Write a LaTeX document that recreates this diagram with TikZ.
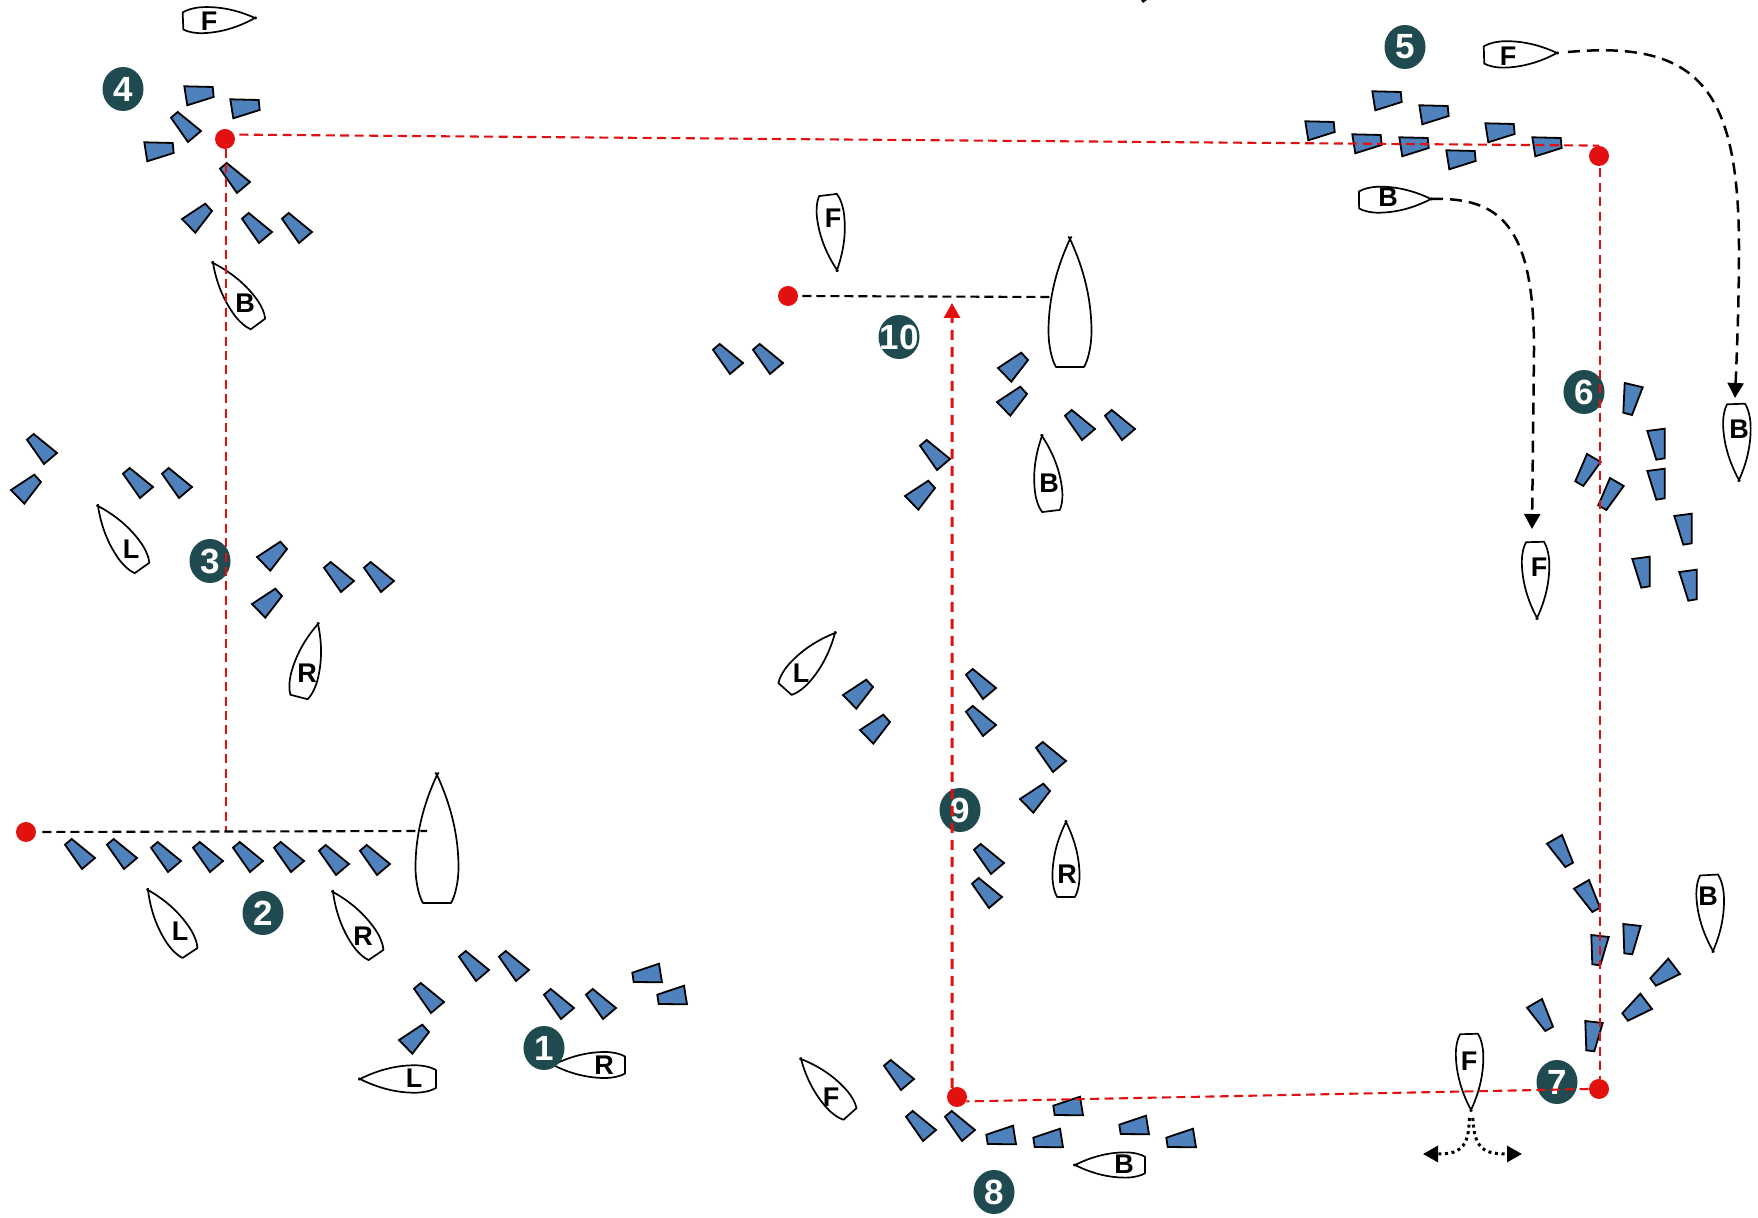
\documentclass[tikz,border=0pt]{standalone}
\usepackage{fontspec}
\setmainfont{Liberation Sans}
\usetikzlibrary{arrows.meta,shapes.geometric}
\definecolor{conefill}{HTML}{4F81BD}
\definecolor{markred}{HTML}{E31010}
\definecolor{badge}{HTML}{1F4A4F}
\tikzset{
  conestyle/.style={draw=black,fill=conefill,line width=0.9pt,line join=miter},
  hull/.style={draw=black,line width=0.85pt,line join=round},
  lbl/.style={inner sep=0pt,font=\fontsize{13.5}{14}\selectfont\bfseries,text=black},
  numbadge/.style={ellipse,fill=badge,minimum width=20.5pt,minimum height=22pt,inner sep=0pt,
    text=white,font=\fontsize{17.5}{18}\selectfont\bfseries},
  reddot/.style={circle,fill=markred,minimum size=10pt,inner sep=0pt},
  redline/.style={draw=markred,line width=1.05pt,dash pattern=on 4.5pt off 2.7pt},
  redbold/.style={draw=markred,line width=1.5pt,dash pattern=on 5pt off 3.5pt},
  blackline/.style={draw=black,line width=1.05pt,dash pattern=on 4.5pt off 2.5pt},
  curveline/.style={draw=black,line width=1.25pt,dash pattern=on 6pt off 3.5pt},
  dotline/.style={draw=black,line width=1.5pt,dash pattern=on 1.5pt off 1.8pt},
  arrowed/.style={-{Triangle[length=7.5pt,width=8pt]}}
}
\newcommand{\defcone}[2]{\expandafter\newcommand\csname cone#1\endcsname[2]{\draw[conestyle,shift={(##1,##2)}] #2 -- cycle;}}
\defcone{A}{(-15,-9.3) -- (-8.3,-15) -- (15,4) -- (2,15)}
\defcone{B}{(-14.7,-9.7) -- (13.7,-9) -- (14.7,1) -- (-11.7,9.3)}
\defcone{C}{(-15,1) -- (8.3,-14.3) -- (15,-7) -- (-1.7,14.7)}
\defcone{D}{(-13,-7.3) -- (2,-16) -- (13,11.7) -- (5.3,16)}
\defcone{E}{(-8.7,-15) -- (8.7,-13) -- (0.3,15.3) -- (-7.7,14.3)}
\defcone{F}{(-8.7,-13) -- (8.7,-15.3) -- (8.7,14.3) -- (0.3,15.7)}
\defcone{G}{(3.3,-13.3) -- (15,2) -- (-9,13.7) -- (-14.7,6.3)}
\defcone{H}{(-14.7,-0.3) -- (12,-9.3) -- (15,9.3) -- (-13.3,9)}
\defcone{J}{(-1,-16) -- (12.7,-8) -- (-4.7,16) -- (-12.7,11.3)}
\defcone{K}{(-8.3,-16) -- (9.7,-11.7) -- (-1,16) -- (-9.7,13.7)}
% name, bow x, bow y, stern x, stern y, width factor
\newcommand{\boat}[6]{%
  \pgfmathsetmacro{\bdx}{#4-#2}\pgfmathsetmacro{\bdy}{#5-#3}%
  \pgfmathsetmacro{\blen}{veclen(\bdx,\bdy)/72}%
  \pgfmathsetmacro{\bang}{atan2(\bdx,\bdy)}%
  \coordinate (#1) at (#2,#3);%
  \begin{scope}[shift={(#2,#3)},rotate=\bang,yscale=\blen,xscale=\blen*#6]
    \draw[hull] (0,0) .. controls (-6,12) and (-13,30) .. (-13,52)
      .. controls (-13,60) and (-11,68) .. (-8.5,72) -- (8.5,72)
      .. controls (11,68) and (13,60) .. (13,52)
      .. controls (13,30) and (6,12) .. (0,0);
    \draw[hull] (-1,-1.4) -- (0,0) -- (1,-1.4);
  \end{scope}}
\begin{document}
\begin{tikzpicture}[x=0.5pt,y=-0.5pt]
\path[fill=white] (0,0) rectangle (1758,1218);
\useasboundingbox (0,0) rectangle (1758,1218);

% boats
\boat{bF4}{255}{18}{183}{21}{1}
\boat{bB4}{213}{263}{258}{324}{1}
\boat{bF5}{1557}{53}{1484}{55}{1}
\boat{bB5}{1431}{199}{1359}{200}{1}
\boat{bF10}{837}{270}{828}{195}{1}
\boat{bBig10}{1070}{239}{1070}{367}{0.93}
\boat{bB10}{1042}{436}{1051}{511}{1}
\boat{bBig2}{437}{775}{437}{903}{0.93}
\boat{bL2}{148}{890}{190}{953}{1}
\boat{bR2}{333}{892}{376}{955}{1}
\boat{bL3}{98}{506}{142}{568}{1}
\boat{bR3}{318}{624}{299}{697}{1}
\boat{bL9}{835}{633}{785}{689}{1}
\boat{bR9}{1066}{822}{1066}{897}{1}
\boat{bL1}{360}{1079}{436}{1079}{1}
\boat{bR1}{553}{1065}{625}{1065}{1}
\boat{bF8}{801}{1059}{850}{1114}{1}
\boat{bB8}{1075}{1165}{1145}{1165}{1}
\boat{bF7}{1471}{1110}{1469}{1034}{1}
\boat{bB7}{1713}{951}{1709}{875}{1}
\boat{bB6}{1739}{480}{1736}{404}{1}
\boat{bF6}{1537}{618}{1535}{542}{1}

\node[lbl] (tF4) at (209,21) {F};
\node[lbl] (tB4) at (245,303) {B};
\node[lbl] (tF5) at (1508,56) {F};
\node[lbl] (tB5) at (1388,197) {B};
\node[lbl] (tF10) at (833,218) {F};
\node[lbl] (tB10) at (1049,483) {B};
\node[lbl] (tL2) at (180,931) {L};
\node[lbl] (tR2) at (363,936) {R};
\node[lbl] (tL3) at (131,549) {L};
\node[lbl] (tR3) at (307,673) {R};
\node[lbl] (tL9) at (801,673) {L};
\node[lbl] (tR9) at (1067,874) {R};
\node[lbl] (tL1) at (414,1078) {L};
\node[lbl] (tR1) at (604,1065) {R};
\node[lbl] (tF8) at (831,1097) {F};
\node[lbl] (tB8) at (1124,1164) {B};
\node[lbl] (tF7) at (1469,1061) {F};
\node[lbl] (tB7) at (1708,896) {B};
\node[lbl] (tB6) at (1739,429) {B};
\node[lbl] (tF6) at (1539,567) {F};

% cones: group 4
\coneA{186}{127}\coneA{235}{178}\coneA{257}{228}\coneA{297}{228}\coneC{197}{218}
\coneB{199}{96}\coneB{245}{109}\coneB{159}{152}
% group 5
\coneB{1387}{101}\coneB{1434}{115}\coneB{1320}{131}\coneB{1367}{144}
\coneB{1414}{147}\coneB{1500}{133}\coneB{1547}{147}\coneB{1461}{160}
% group 2
\coneA{80}{854}\coneA{122}{854}\coneA{166}{857}\coneA{208}{857}
\coneA{248}{857}\coneA{289}{857}\coneA{334}{860}\coneA{375}{860}
% group 1
\coneA{474}{966}\coneA{514}{966}\coneA{429}{998}\coneA{559}{1004}\coneA{601}{1004}
\coneC{414}{1039}\coneH{647}{973}\coneH{672}{995}
% group 3
\coneA{42}{449}\coneC{26}{489}\coneA{138}{483}\coneA{177}{483}
\coneC{272}{556}\coneC{267}{603}\coneA{339}{577}\coneA{379}{577}
% group 10
\coneA{728}{359}\coneA{768}{359}\coneC{1013}{367}\coneC{1012}{401}
\coneA{1080}{425}\coneA{1120}{425}\coneA{935}{455}\coneC{920}{495}
% group 9
\coneC{858}{694}\coneC{875}{729}\coneA{981}{684}\coneA{981}{721}
\coneA{1051}{757}\coneC{1035}{798}\coneA{989}{859}\coneA{987}{893}
% group 8
\coneA{899}{1075}\coneA{921}{1126}\coneA{960}{1126}\coneH{1001}{1135}
\coneH{1048}{1138}\coneH{1068}{1106}\coneH{1134}{1125}\coneH{1181}{1138}
% group 6
\coneK{1633}{399}\coneF{1656}{444}\coneF{1656}{484}\coneF{1683}{529}
\coneF{1641}{572}\coneF{1688}{585}\coneJ{1588}{470}\coneJ{1611}{494}
% group 7
\coneD{1560}{851}\coneD{1587}{896}\coneD{1540}{1015}\coneE{1600}{950}
\coneE{1632}{939}\coneE{1594}{1036}\coneG{1665}{972}\coneG{1637}{1007}

% numbered badges
\node[numbadge] (n1) at (544,1048) {1};
\node[numbadge] (n2) at (263,913) {2};
\node[numbadge] (n3) at (210,561) {3};
\node[numbadge] (n4) at (123,89) {4};
\node[numbadge] (n5) at (1405,47) {5};
\node[numbadge] (n6) at (1584,392) {6};
\node[numbadge] (n7) at (1557,1082) {7};
\node[numbadge] (n8) at (994,1192) {8};
\node[numbadge] (n9) at (960,810) {9};
\node[numbadge] (n10) at (899,337) {\makebox[0pt]{10}};

% marks
\node[reddot] (d2) at (26,832) {};
\node[reddot] (d4) at (225,139) {};
\node[reddot] (d5) at (1599,156) {};
\node[reddot] (d7) at (1599,1089) {};
\node[reddot] (d8) at (957,1097) {};
\node[reddot] (d10) at (788,296) {};

% free ends
\coordinate (j2) at (226,831);
\coordinate (e2) at (427,831);
\coordinate (e10) at (1050,297);
\coordinate (tip8) at (952,303);
\coordinate (tipB6) at (1735,398);
\coordinate (tipF6) at (1532,529);
\coordinate (tipL) at (1423,1154);
\coordinate (tipR) at (1522,1154);

% connectors
\draw[redline,shorten <=2.5pt] (d4.25) -- (d5.north);
\draw[redline] ([xshift=0.5pt]d4.south) -- (j2);
\draw[redline,shorten <=1pt] ([xshift=0.7pt]d5.south) -- ([xshift=0.7pt]d7.north);
\draw[redline] (d7.west) -- (d8.-25);
\draw[redbold,arrowed] (d8.118) -- (tip8);
\draw[blackline,shorten <=3pt] (d2.east) -- (e2);
\draw[blackline,shorten <=2pt] (d10.east) -- (e10);
\draw[curveline,arrowed,shorten <=5.5pt] (bF5) .. controls (1700,40) and (1739,90) .. (1739,250)
   .. controls (1739,300) and (1737,350) .. (tipB6);
\draw[curveline,arrowed] (bB5) .. controls (1500,197) and (1534,225) .. (1534,350) -- (tipF6);
\draw[dotline,arrowed,shorten <=4pt] ([xshift=0.8pt]bF7) .. controls (1474,1150) and (1485,1154) .. (tipR);
\draw[dotline,arrowed,shorten <=4pt] ([xshift=-0.8pt]bF7) .. controls (1469,1150) and (1458,1154) .. (tipL);

% arrow head cut off by the top edge
\fill[black] (1141,0) -- (1147,0) -- (1143,3) -- cycle;
\end{tikzpicture}
\end{document}
